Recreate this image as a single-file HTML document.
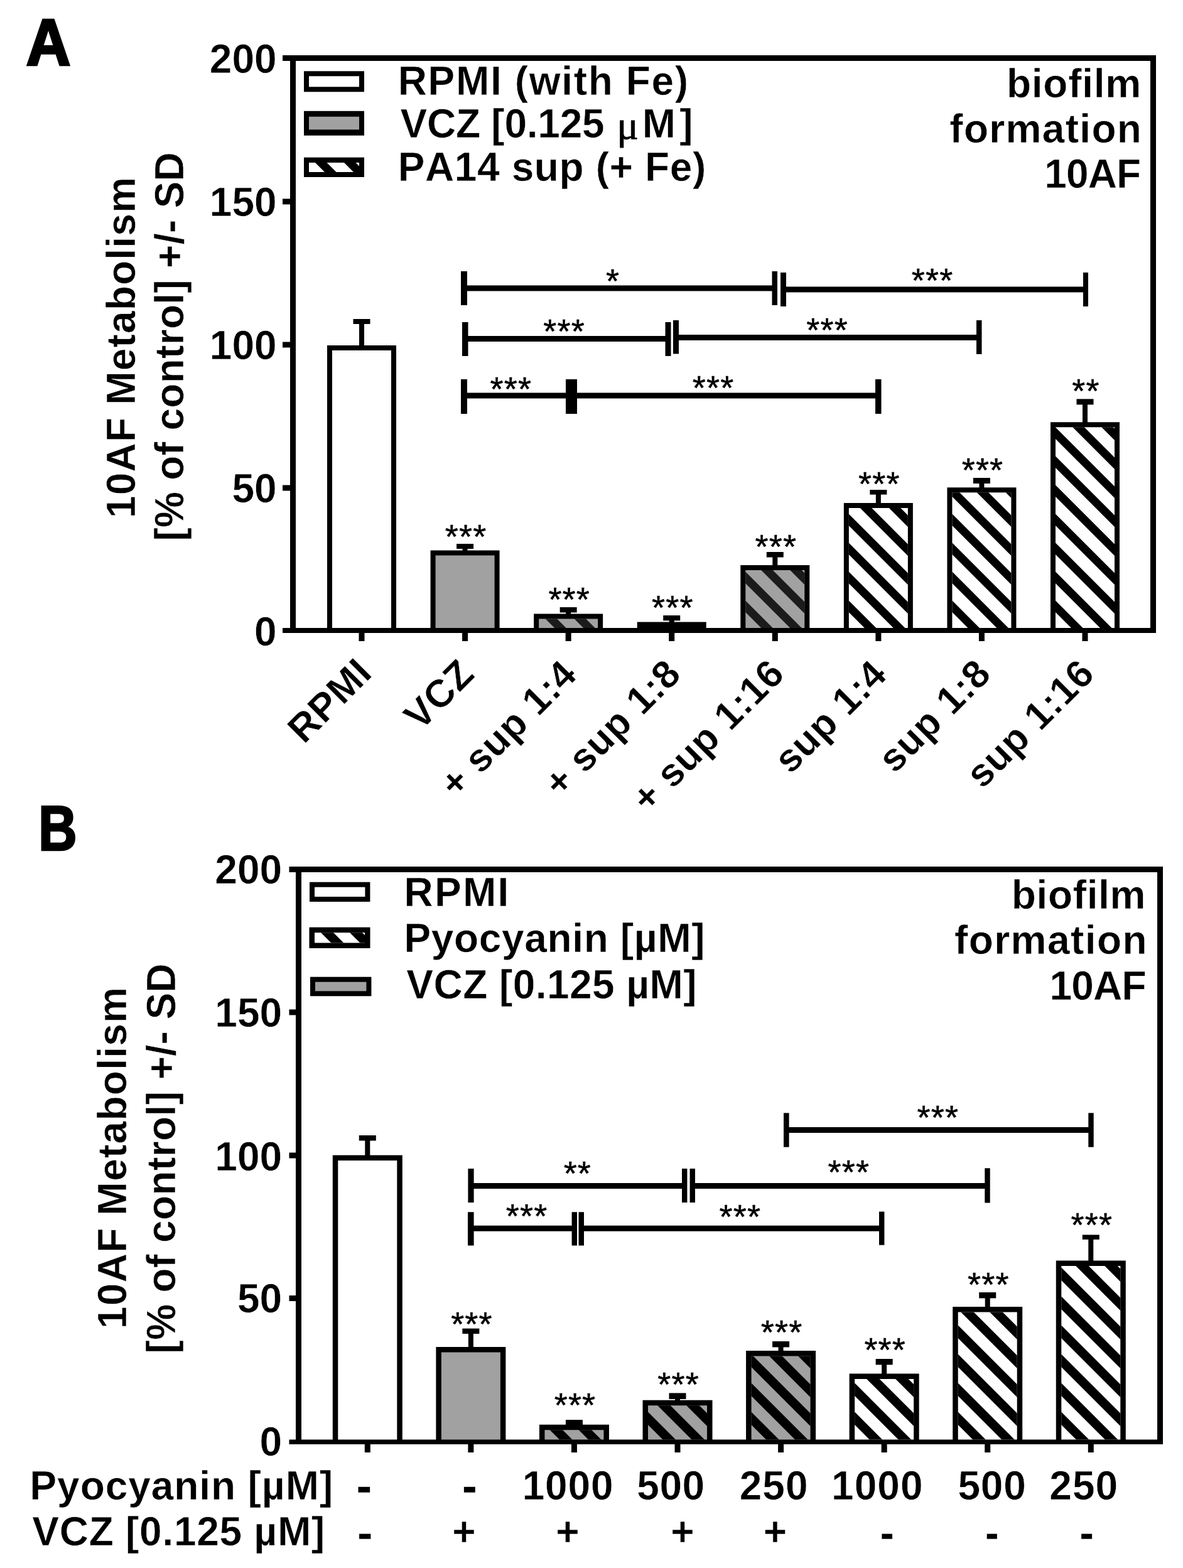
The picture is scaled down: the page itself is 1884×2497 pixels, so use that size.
<!DOCTYPE html>
<html><head><meta charset="utf-8"><title>10AF biofilm formation</title>
<style>html,body{margin:0;padding:0;background:#fff;width:1884px;height:2497px;overflow:hidden}svg{display:block}
text{font-family:'Liberation Sans', Arial, sans-serif;fill:#000;font-kerning:none;font-variant-ligatures:none;stroke:#fff;stroke-width:0.5px}</style></head>
<body><svg width="1884" height="2497" viewBox="0 0 1884 2497" font-family="'Liberation Sans', Arial, sans-serif" style="font-kerning:none;font-variant-ligatures:none"><defs><clipPath id="c1"><rect x="858.14" y="985.50" width="94.00" height="14.50"/></clipPath><clipPath id="c2"><rect x="1187.28" y="908.00" width="94.00" height="92.00"/></clipPath><clipPath id="c3"><rect x="1351.85" y="809.00" width="94.00" height="191.00"/></clipPath><clipPath id="c4"><rect x="1516.42" y="784.30" width="94.00" height="215.70"/></clipPath><clipPath id="c5"><rect x="1680.99" y="680.30" width="94.00" height="319.70"/></clipPath><clipPath id="c6"><rect x="492.00" y="259.00" width="80.00" height="15.00"/></clipPath><clipPath id="c7"><rect x="867.44" y="2277.20" width="94.00" height="15.30"/></clipPath><clipPath id="c8"><rect x="1032.01" y="2238.20" width="94.00" height="54.30"/></clipPath><clipPath id="c9"><rect x="1196.58" y="2159.50" width="94.00" height="133.00"/></clipPath><clipPath id="c10"><rect x="1361.15" y="2196.00" width="94.00" height="96.50"/></clipPath><clipPath id="c11"><rect x="1525.72" y="2089.50" width="94.00" height="203.00"/></clipPath><clipPath id="c12"><rect x="1690.29" y="2016.00" width="94.00" height="276.50"/></clipPath><clipPath id="c13"><rect x="501.00" y="1485.20" width="80.00" height="16.30"/></clipPath></defs><rect width="1884" height="2497" fill="#fff"/><rect x="462.00" y="88.00" width="9.00" height="920.00" fill="#000"/>
<rect x="450.00" y="88.00" width="1391.00" height="9.00" fill="#000"/>
<rect x="1832.00" y="88.00" width="9.00" height="920.00" fill="#000"/>
<rect x="450.00" y="1000.00" width="1391.00" height="8.00" fill="#000"/>
<rect x="450.00" y="316.50" width="13.00" height="9.00" fill="#000"/>
<rect x="450.00" y="544.50" width="13.00" height="9.00" fill="#000"/>
<rect x="450.00" y="772.50" width="13.00" height="9.00" fill="#000"/>
<rect x="571.50" y="1007.00" width="9.00" height="14.00" fill="#000"/>
<rect x="736.07" y="1007.00" width="9.00" height="14.00" fill="#000"/>
<rect x="900.64" y="1007.00" width="9.00" height="14.00" fill="#000"/>
<rect x="1065.21" y="1007.00" width="9.00" height="14.00" fill="#000"/>
<rect x="1229.78" y="1007.00" width="9.00" height="14.00" fill="#000"/>
<rect x="1394.35" y="1007.00" width="9.00" height="14.00" fill="#000"/>
<rect x="1558.92" y="1007.00" width="9.00" height="14.00" fill="#000"/>
<rect x="1723.49" y="1007.00" width="9.00" height="14.00" fill="#000"/>
<rect x="572.00" y="515.00" width="8.00" height="36.00" fill="#000"/>
<rect x="562.50" y="508.00" width="27.00" height="8.00" fill="#000"/>
<rect x="521.00" y="550.00" width="110.00" height="451.00" fill="#000"/>
<rect x="529.00" y="558.00" width="94.00" height="442.00" fill="#fff"/>
<rect x="736.57" y="873.00" width="8.00" height="4.50" fill="#000"/>
<rect x="727.07" y="866.00" width="27.00" height="8.00" fill="#000"/>
<rect x="685.57" y="876.50" width="110.00" height="124.50" fill="#000"/>
<rect x="693.57" y="884.50" width="94.00" height="115.50" fill="#a1a1a1"/>
<rect x="901.14" y="974.40" width="8.00" height="4.10" fill="#000"/>
<rect x="891.64" y="967.00" width="27.00" height="8.40" fill="#000"/>
<rect x="850.14" y="977.50" width="110.00" height="23.50" fill="#000"/>
<rect x="858.14" y="985.50" width="94.00" height="14.50" fill="#a1a1a1"/>
<g clip-path="url(#c1)"><polygon points="774.64,983.50 793.14,983.50 811.64,1002.00 793.14,1002.00" fill="#1b1b1b"/><polygon points="820.64,983.50 839.14,983.50 857.64,1002.00 839.14,1002.00" fill="#1b1b1b"/><polygon points="866.64,983.50 885.14,983.50 903.64,1002.00 885.14,1002.00" fill="#1b1b1b"/><polygon points="912.64,983.50 931.14,983.50 949.64,1002.00 931.14,1002.00" fill="#1b1b1b"/><polygon points="958.64,983.50 977.14,983.50 995.64,1002.00 977.14,1002.00" fill="#1b1b1b"/><polygon points="1004.64,983.50 1023.14,983.50 1041.64,1002.00 1023.14,1002.00" fill="#1b1b1b"/><polygon points="1050.64,983.50 1069.14,983.50 1087.64,1002.00 1069.14,1002.00" fill="#1b1b1b"/><polygon points="1096.64,983.50 1115.14,983.50 1133.64,1002.00 1115.14,1002.00" fill="#1b1b1b"/></g>
<rect x="1065.71" y="987.30" width="8.00" height="4.20" fill="#000"/>
<rect x="1056.21" y="980.00" width="27.00" height="8.30" fill="#000"/>
<rect x="1014.71" y="990.50" width="110.00" height="10.50" fill="#000"/>
<rect x="1230.28" y="886.50" width="8.00" height="14.50" fill="#000"/>
<rect x="1220.78" y="879.00" width="27.00" height="8.50" fill="#000"/>
<rect x="1179.28" y="900.00" width="110.00" height="101.00" fill="#000"/>
<rect x="1187.28" y="908.00" width="94.00" height="92.00" fill="#a1a1a1"/>
<g clip-path="url(#c2)"><polygon points="1026.28,906.00 1044.78,906.00 1140.78,1002.00 1122.28,1002.00" fill="#1b1b1b"/><polygon points="1072.28,906.00 1090.78,906.00 1186.78,1002.00 1168.28,1002.00" fill="#1b1b1b"/><polygon points="1118.28,906.00 1136.78,906.00 1232.78,1002.00 1214.28,1002.00" fill="#1b1b1b"/><polygon points="1164.28,906.00 1182.78,906.00 1278.78,1002.00 1260.28,1002.00" fill="#1b1b1b"/><polygon points="1210.28,906.00 1228.78,906.00 1324.78,1002.00 1306.28,1002.00" fill="#1b1b1b"/><polygon points="1256.28,906.00 1274.78,906.00 1370.78,1002.00 1352.28,1002.00" fill="#1b1b1b"/><polygon points="1302.28,906.00 1320.78,906.00 1416.78,1002.00 1398.28,1002.00" fill="#1b1b1b"/><polygon points="1348.28,906.00 1366.78,906.00 1462.78,1002.00 1444.28,1002.00" fill="#1b1b1b"/><polygon points="1394.28,906.00 1412.78,906.00 1508.78,1002.00 1490.28,1002.00" fill="#1b1b1b"/><polygon points="1440.28,906.00 1458.78,906.00 1554.78,1002.00 1536.28,1002.00" fill="#1b1b1b"/></g>
<rect x="1394.85" y="786.60" width="8.00" height="15.40" fill="#000"/>
<rect x="1385.35" y="780.00" width="27.00" height="7.60" fill="#000"/>
<rect x="1343.85" y="801.00" width="110.00" height="200.00" fill="#000"/>
<rect x="1351.85" y="809.00" width="94.00" height="191.00" fill="#fff"/>
<g clip-path="url(#c3)"><polygon points="1091.85,807.00 1110.35,807.00 1305.35,1002.00 1286.85,1002.00" fill="#000"/><polygon points="1137.85,807.00 1156.35,807.00 1351.35,1002.00 1332.85,1002.00" fill="#000"/><polygon points="1183.85,807.00 1202.35,807.00 1397.35,1002.00 1378.85,1002.00" fill="#000"/><polygon points="1229.85,807.00 1248.35,807.00 1443.35,1002.00 1424.85,1002.00" fill="#000"/><polygon points="1275.85,807.00 1294.35,807.00 1489.35,1002.00 1470.85,1002.00" fill="#000"/><polygon points="1321.85,807.00 1340.35,807.00 1535.35,1002.00 1516.85,1002.00" fill="#000"/><polygon points="1367.85,807.00 1386.35,807.00 1581.35,1002.00 1562.85,1002.00" fill="#000"/><polygon points="1413.85,807.00 1432.35,807.00 1627.35,1002.00 1608.85,1002.00" fill="#000"/><polygon points="1459.85,807.00 1478.35,807.00 1673.35,1002.00 1654.85,1002.00" fill="#000"/><polygon points="1505.85,807.00 1524.35,807.00 1719.35,1002.00 1700.85,1002.00" fill="#000"/><polygon points="1551.85,807.00 1570.35,807.00 1765.35,1002.00 1746.85,1002.00" fill="#000"/><polygon points="1597.85,807.00 1616.35,807.00 1811.35,1002.00 1792.85,1002.00" fill="#000"/></g>
<rect x="1559.42" y="769.00" width="8.00" height="8.30" fill="#000"/>
<rect x="1549.92" y="761.00" width="27.00" height="9.00" fill="#000"/>
<rect x="1508.42" y="776.30" width="110.00" height="224.70" fill="#000"/>
<rect x="1516.42" y="784.30" width="94.00" height="215.70" fill="#fff"/>
<g clip-path="url(#c4)"><polygon points="1231.72,782.30 1250.22,782.30 1469.92,1002.00 1451.42,1002.00" fill="#000"/><polygon points="1277.72,782.30 1296.22,782.30 1515.92,1002.00 1497.42,1002.00" fill="#000"/><polygon points="1323.72,782.30 1342.22,782.30 1561.92,1002.00 1543.42,1002.00" fill="#000"/><polygon points="1369.72,782.30 1388.22,782.30 1607.92,1002.00 1589.42,1002.00" fill="#000"/><polygon points="1415.72,782.30 1434.22,782.30 1653.92,1002.00 1635.42,1002.00" fill="#000"/><polygon points="1461.72,782.30 1480.22,782.30 1699.92,1002.00 1681.42,1002.00" fill="#000"/><polygon points="1507.72,782.30 1526.22,782.30 1745.92,1002.00 1727.42,1002.00" fill="#000"/><polygon points="1553.72,782.30 1572.22,782.30 1791.92,1002.00 1773.42,1002.00" fill="#000"/><polygon points="1599.72,782.30 1618.22,782.30 1837.92,1002.00 1819.42,1002.00" fill="#000"/><polygon points="1645.72,782.30 1664.22,782.30 1883.92,1002.00 1865.42,1002.00" fill="#000"/><polygon points="1691.72,782.30 1710.22,782.30 1929.92,1002.00 1911.42,1002.00" fill="#000"/><polygon points="1737.72,782.30 1756.22,782.30 1975.92,1002.00 1957.42,1002.00" fill="#000"/></g>
<rect x="1723.99" y="643.40" width="8.00" height="29.90" fill="#000"/>
<rect x="1714.49" y="635.40" width="27.00" height="9.00" fill="#000"/>
<rect x="1672.99" y="672.30" width="110.00" height="328.70" fill="#000"/>
<rect x="1680.99" y="680.30" width="94.00" height="319.70" fill="#fff"/>
<g clip-path="url(#c5)"><polygon points="1292.29,678.30 1310.79,678.30 1634.49,1002.00 1615.99,1002.00" fill="#000"/><polygon points="1338.29,678.30 1356.79,678.30 1680.49,1002.00 1661.99,1002.00" fill="#000"/><polygon points="1384.29,678.30 1402.79,678.30 1726.49,1002.00 1707.99,1002.00" fill="#000"/><polygon points="1430.29,678.30 1448.79,678.30 1772.49,1002.00 1753.99,1002.00" fill="#000"/><polygon points="1476.29,678.30 1494.79,678.30 1818.49,1002.00 1799.99,1002.00" fill="#000"/><polygon points="1522.29,678.30 1540.79,678.30 1864.49,1002.00 1845.99,1002.00" fill="#000"/><polygon points="1568.29,678.30 1586.79,678.30 1910.49,1002.00 1891.99,1002.00" fill="#000"/><polygon points="1614.29,678.30 1632.79,678.30 1956.49,1002.00 1937.99,1002.00" fill="#000"/><polygon points="1660.29,678.30 1678.79,678.30 2002.49,1002.00 1983.99,1002.00" fill="#000"/><polygon points="1706.29,678.30 1724.79,678.30 2048.49,1002.00 2029.99,1002.00" fill="#000"/><polygon points="1752.29,678.30 1770.79,678.30 2094.49,1002.00 2075.99,1002.00" fill="#000"/><polygon points="1798.29,678.30 1816.79,678.30 2140.49,1002.00 2121.99,1002.00" fill="#000"/><polygon points="1844.29,678.30 1862.79,678.30 2186.49,1002.00 2167.99,1002.00" fill="#000"/><polygon points="1890.29,678.30 1908.79,678.30 2232.49,1002.00 2213.99,1002.00" fill="#000"/></g>
<text x="708.83" y="872.85" font-size="54" font-weight="normal" letter-spacing="1.200" style="stroke:#000;stroke-width:0.5px">***</text>
<text x="873.40" y="972.85" font-size="54" font-weight="normal" letter-spacing="1.200" style="stroke:#000;stroke-width:0.5px">***</text>
<text x="1037.97" y="985.85" font-size="54" font-weight="normal" letter-spacing="1.200" style="stroke:#000;stroke-width:0.5px">***</text>
<text x="1202.54" y="888.85" font-size="54" font-weight="normal" letter-spacing="1.200" style="stroke:#000;stroke-width:0.5px">***</text>
<text x="1367.11" y="789.25" font-size="54" font-weight="normal" letter-spacing="1.200" style="stroke:#000;stroke-width:0.5px">***</text>
<text x="1531.68" y="766.85" font-size="54" font-weight="normal" letter-spacing="1.200" style="stroke:#000;stroke-width:0.5px">***</text>
<text x="1707.36" y="640.85" font-size="54" font-weight="normal" letter-spacing="1.200" style="stroke:#000;stroke-width:0.5px">**</text>
<rect x="734.00" y="432.00" width="10.00" height="54.00" fill="#000"/>
<rect x="744.00" y="454.50" width="487.00" height="9.00" fill="#000"/>
<rect x="1229.50" y="432.00" width="8.50" height="54.00" fill="#000"/>
<rect x="1243.00" y="434.00" width="9.00" height="54.00" fill="#000"/>
<rect x="1250.00" y="456.50" width="480.00" height="9.00" fill="#000"/>
<rect x="1725.00" y="434.00" width="8.00" height="54.00" fill="#000"/>
<text x="964.98" y="465.85" font-size="54" font-weight="normal" letter-spacing="1.200" style="stroke:#000;stroke-width:0.5px">*</text>
<text x="1451.76" y="464.85" font-size="54" font-weight="normal" letter-spacing="1.200" style="stroke:#000;stroke-width:0.5px">***</text>
<rect x="736.00" y="513.00" width="9.50" height="54.00" fill="#000"/>
<rect x="744.00" y="535.00" width="317.00" height="9.00" fill="#000"/>
<rect x="1059.50" y="513.00" width="9.00" height="54.00" fill="#000"/>
<rect x="1072.00" y="510.00" width="9.00" height="53.50" fill="#000"/>
<rect x="1080.00" y="533.00" width="480.00" height="9.00" fill="#000"/>
<rect x="1555.00" y="510.00" width="8.50" height="54.00" fill="#000"/>
<text x="865.26" y="545.65" font-size="54" font-weight="normal" letter-spacing="1.200" style="stroke:#000;stroke-width:0.5px">***</text>
<text x="1284.26" y="543.65" font-size="54" font-weight="normal" letter-spacing="1.200" style="stroke:#000;stroke-width:0.5px">***</text>
<rect x="734.00" y="604.00" width="10.00" height="55.00" fill="#000"/>
<rect x="744.00" y="625.50" width="656.00" height="9.00" fill="#000"/>
<rect x="901.00" y="604.00" width="18.00" height="55.00" fill="#000"/>
<rect x="1394.00" y="604.00" width="9.50" height="55.00" fill="#000"/>
<text x="780.56" y="637.85" font-size="54" font-weight="normal" letter-spacing="1.200" style="stroke:#000;stroke-width:0.5px">***</text>
<text x="1102.76" y="636.35" font-size="54" font-weight="normal" letter-spacing="1.200" style="stroke:#000;stroke-width:0.5px">***</text>
<rect x="484.00" y="113.30" width="96.00" height="33.00" fill="#000"/>
<rect x="492.00" y="121.30" width="80.00" height="17.00" fill="#fff"/>
<rect x="484.00" y="176.80" width="96.00" height="39.00" fill="#000"/>
<rect x="492.00" y="185.80" width="80.00" height="20.60" fill="#a1a1a1"/>
<rect x="484.00" y="250.70" width="96.00" height="31.30" fill="#000"/>
<rect x="492.00" y="259.00" width="80.00" height="15.00" fill="#fff"/>
<g clip-path="url(#c6)"><polygon points="408.00,257.00 426.50,257.00 445.50,276.00 427.00,276.00" fill="#000"/><polygon points="454.00,257.00 472.50,257.00 491.50,276.00 473.00,276.00" fill="#000"/><polygon points="500.00,257.00 518.50,257.00 537.50,276.00 519.00,276.00" fill="#000"/><polygon points="546.00,257.00 564.50,257.00 583.50,276.00 565.00,276.00" fill="#000"/><polygon points="592.00,257.00 610.50,257.00 629.50,276.00 611.00,276.00" fill="#000"/><polygon points="638.00,257.00 656.50,257.00 675.50,276.00 657.00,276.00" fill="#000"/><polygon points="684.00,257.00 702.50,257.00 721.50,276.00 703.00,276.00" fill="#000"/><polygon points="730.00,257.00 748.50,257.00 767.50,276.00 749.00,276.00" fill="#000"/></g>
<text x="633.72" y="151.00" font-size="64" font-weight="bold" letter-spacing="1.663" >RPMI (with Fe)</text>
<text x="637.56" y="219.00" font-size="64" font-weight="bold" letter-spacing="-0.248" >VCZ [0.125</text>
<text x="982.56" y="220.50" font-size="64" font-weight="normal" letter-spacing="0.000" style="font-family:Liberation Serif;stroke:#000;stroke-width:0.9px">μ</text>
<text x="1022.72" y="219.00" font-size="64" font-weight="bold" letter-spacing="6.250" >M]</text>
<text x="633.72" y="288.00" font-size="64" font-weight="bold" letter-spacing="0.612" >PA14 sup (+ Fe)</text>
<text x="1602.98" y="154.70" font-size="64" font-weight="bold" letter-spacing="0.740" >biofilm</text>
<text x="1512.31" y="226.80" font-size="64" font-weight="bold" letter-spacing="1.321" >formation</text>
<text x="1663.37" y="299.40" font-size="64" font-weight="bold" letter-spacing="-0.908" >10AF</text>
<text transform="translate(41.82,103.45) scale(0.9763,1.0393)" x="0" y="0" font-size="100.0" font-weight="bold" style="stroke:#000;stroke-width:3.473px;stroke-linejoin:miter">A</text>
<text x="333.84" y="116.00" font-size="64" font-weight="bold" letter-spacing="0.000" >200</text>
<text x="333.84" y="343.50" font-size="64" font-weight="bold" letter-spacing="0.000" >150</text>
<text x="333.84" y="571.50" font-size="64" font-weight="bold" letter-spacing="0.000" >100</text>
<text x="369.44" y="799.50" font-size="64" font-weight="bold" letter-spacing="0.000" >50</text>
<text x="405.03" y="1027.50" font-size="64" font-weight="bold" letter-spacing="0.000" >0</text>
<text transform="rotate(-90)" x="-825.03" y="215.00" font-size="64" font-weight="bold" letter-spacing="1.190" >10AF Metabolism</text>
<text transform="rotate(-90)" x="-861.59" y="292.00" font-size="64" font-weight="bold" letter-spacing="0.298" >[% of control] +/- SD</text>
<text transform="translate(577.00,1063) rotate(-45)" x="-152.95" y="21.33" font-size="62" font-weight="bold" letter-spacing="0.7">RPMI</text>
<text transform="translate(741.57,1063) rotate(-45)" x="-123.61" y="21.33" font-size="62" font-weight="bold" letter-spacing="0.7">VCZ</text>
<text transform="translate(906.14,1063) rotate(-45)" x="-275.76" y="21.33" font-size="62" font-weight="bold" letter-spacing="0.7">+ sup 1:4</text>
<text transform="translate(1070.71,1063) rotate(-45)" x="-274.19" y="21.33" font-size="62" font-weight="bold" letter-spacing="0.7">+ sup 1:8</text>
<text transform="translate(1235.28,1063) rotate(-45)" x="-309.03" y="21.33" font-size="62" font-weight="bold" letter-spacing="0.7">+ sup 1:16</text>
<text transform="translate(1399.85,1063) rotate(-45)" x="-220.93" y="21.33" font-size="62" font-weight="bold" letter-spacing="0.7">sup 1:4</text>
<text transform="translate(1564.42,1063) rotate(-45)" x="-219.35" y="21.33" font-size="62" font-weight="bold" letter-spacing="0.7">sup 1:8</text>
<text transform="translate(1728.99,1063) rotate(-45)" x="-254.20" y="21.33" font-size="62" font-weight="bold" letter-spacing="0.7">sup 1:16</text>
<rect x="471.00" y="1380.00" width="9.00" height="920.00" fill="#000"/>
<rect x="460.50" y="1380.00" width="1391.50" height="9.00" fill="#000"/>
<rect x="1843.00" y="1380.00" width="9.00" height="920.00" fill="#000"/>
<rect x="460.50" y="2292.50" width="1391.50" height="7.50" fill="#000"/>
<rect x="460.50" y="1607.50" width="11.50" height="9.00" fill="#000"/>
<rect x="460.50" y="1835.50" width="11.50" height="9.00" fill="#000"/>
<rect x="460.50" y="2063.00" width="11.50" height="9.00" fill="#000"/>
<rect x="580.80" y="2299.00" width="9.00" height="14.00" fill="#000"/>
<rect x="745.37" y="2299.00" width="9.00" height="14.00" fill="#000"/>
<rect x="909.94" y="2299.00" width="9.00" height="14.00" fill="#000"/>
<rect x="1074.51" y="2299.00" width="9.00" height="14.00" fill="#000"/>
<rect x="1239.08" y="2299.00" width="9.00" height="14.00" fill="#000"/>
<rect x="1403.65" y="2299.00" width="9.00" height="14.00" fill="#000"/>
<rect x="1568.22" y="2299.00" width="9.00" height="14.00" fill="#000"/>
<rect x="1732.79" y="2299.00" width="9.00" height="14.00" fill="#000"/>
<rect x="581.30" y="1815.50" width="8.00" height="25.10" fill="#000"/>
<rect x="571.80" y="1808.00" width="27.00" height="8.50" fill="#000"/>
<rect x="529.80" y="1839.60" width="111.00" height="453.40" fill="#000"/>
<rect x="538.30" y="1848.10" width="94.00" height="444.40" fill="#fff"/>
<rect x="745.87" y="2123.00" width="8.00" height="23.00" fill="#000"/>
<rect x="736.37" y="2115.60" width="27.00" height="8.40" fill="#000"/>
<rect x="694.37" y="2145.00" width="111.00" height="148.00" fill="#000"/>
<rect x="702.87" y="2153.50" width="94.00" height="139.00" fill="#a1a1a1"/>
<rect x="910.44" y="2269.80" width="8.00" height="-0.10" fill="#000"/>
<rect x="900.94" y="2261.00" width="27.00" height="9.80" fill="#000"/>
<rect x="858.94" y="2268.70" width="111.00" height="24.30" fill="#000"/>
<rect x="867.44" y="2277.20" width="94.00" height="15.30" fill="#a1a1a1"/>
<g clip-path="url(#c7)"><polygon points="781.64,2275.20 802.14,2275.20 821.44,2294.50 800.94,2294.50" fill="#000"/><polygon points="827.64,2275.20 848.14,2275.20 867.44,2294.50 846.94,2294.50" fill="#000"/><polygon points="873.64,2275.20 894.14,2275.20 913.44,2294.50 892.94,2294.50" fill="#000"/><polygon points="919.64,2275.20 940.14,2275.20 959.44,2294.50 938.94,2294.50" fill="#000"/><polygon points="965.64,2275.20 986.14,2275.20 1005.44,2294.50 984.94,2294.50" fill="#000"/><polygon points="1011.64,2275.20 1032.14,2275.20 1051.44,2294.50 1030.94,2294.50" fill="#000"/><polygon points="1057.64,2275.20 1078.14,2275.20 1097.44,2294.50 1076.94,2294.50" fill="#000"/><polygon points="1103.64,2275.20 1124.14,2275.20 1143.44,2294.50 1122.94,2294.50" fill="#000"/></g>
<rect x="1075.01" y="2227.00" width="8.00" height="3.70" fill="#000"/>
<rect x="1065.51" y="2218.40" width="27.00" height="9.60" fill="#000"/>
<rect x="1023.51" y="2229.70" width="111.00" height="63.30" fill="#000"/>
<rect x="1032.01" y="2238.20" width="94.00" height="54.30" fill="#a1a1a1"/>
<g clip-path="url(#c8)"><polygon points="907.21,2236.20 927.71,2236.20 986.01,2294.50 965.51,2294.50" fill="#000"/><polygon points="953.21,2236.20 973.71,2236.20 1032.01,2294.50 1011.51,2294.50" fill="#000"/><polygon points="999.21,2236.20 1019.71,2236.20 1078.01,2294.50 1057.51,2294.50" fill="#000"/><polygon points="1045.21,2236.20 1065.71,2236.20 1124.01,2294.50 1103.51,2294.50" fill="#000"/><polygon points="1091.21,2236.20 1111.71,2236.20 1170.01,2294.50 1149.51,2294.50" fill="#000"/><polygon points="1137.21,2236.20 1157.71,2236.20 1216.01,2294.50 1195.51,2294.50" fill="#000"/><polygon points="1183.21,2236.20 1203.71,2236.20 1262.01,2294.50 1241.51,2294.50" fill="#000"/><polygon points="1229.21,2236.20 1249.71,2236.20 1308.01,2294.50 1287.51,2294.50" fill="#000"/><polygon points="1275.21,2236.20 1295.71,2236.20 1354.01,2294.50 1333.51,2294.50" fill="#000"/></g>
<rect x="1239.58" y="2144.40" width="8.00" height="7.60" fill="#000"/>
<rect x="1230.08" y="2136.00" width="27.00" height="9.40" fill="#000"/>
<rect x="1188.08" y="2151.00" width="111.00" height="142.00" fill="#000"/>
<rect x="1196.58" y="2159.50" width="94.00" height="133.00" fill="#a1a1a1"/>
<g clip-path="url(#c9)"><polygon points="993.08,2157.50 1013.58,2157.50 1150.58,2294.50 1130.08,2294.50" fill="#000"/><polygon points="1039.08,2157.50 1059.58,2157.50 1196.58,2294.50 1176.08,2294.50" fill="#000"/><polygon points="1085.08,2157.50 1105.58,2157.50 1242.58,2294.50 1222.08,2294.50" fill="#000"/><polygon points="1131.08,2157.50 1151.58,2157.50 1288.58,2294.50 1268.08,2294.50" fill="#000"/><polygon points="1177.08,2157.50 1197.58,2157.50 1334.58,2294.50 1314.08,2294.50" fill="#000"/><polygon points="1223.08,2157.50 1243.58,2157.50 1380.58,2294.50 1360.08,2294.50" fill="#000"/><polygon points="1269.08,2157.50 1289.58,2157.50 1426.58,2294.50 1406.08,2294.50" fill="#000"/><polygon points="1315.08,2157.50 1335.58,2157.50 1472.58,2294.50 1452.08,2294.50" fill="#000"/><polygon points="1361.08,2157.50 1381.58,2157.50 1518.58,2294.50 1498.08,2294.50" fill="#000"/><polygon points="1407.08,2157.50 1427.58,2157.50 1564.58,2294.50 1544.08,2294.50" fill="#000"/></g>
<rect x="1404.15" y="2172.40" width="8.00" height="16.10" fill="#000"/>
<rect x="1394.65" y="2164.00" width="27.00" height="9.40" fill="#000"/>
<rect x="1352.65" y="2187.50" width="111.00" height="105.50" fill="#000"/>
<rect x="1361.15" y="2196.00" width="94.00" height="96.50" fill="#fff"/>
<g clip-path="url(#c10)"><polygon points="1194.15,2194.00 1214.65,2194.00 1315.15,2294.50 1294.65,2294.50" fill="#000"/><polygon points="1240.15,2194.00 1260.65,2194.00 1361.15,2294.50 1340.65,2294.50" fill="#000"/><polygon points="1286.15,2194.00 1306.65,2194.00 1407.15,2294.50 1386.65,2294.50" fill="#000"/><polygon points="1332.15,2194.00 1352.65,2194.00 1453.15,2294.50 1432.65,2294.50" fill="#000"/><polygon points="1378.15,2194.00 1398.65,2194.00 1499.15,2294.50 1478.65,2294.50" fill="#000"/><polygon points="1424.15,2194.00 1444.65,2194.00 1545.15,2294.50 1524.65,2294.50" fill="#000"/><polygon points="1470.15,2194.00 1490.65,2194.00 1591.15,2294.50 1570.65,2294.50" fill="#000"/><polygon points="1516.15,2194.00 1536.65,2194.00 1637.15,2294.50 1616.65,2294.50" fill="#000"/><polygon points="1562.15,2194.00 1582.65,2194.00 1683.15,2294.50 1662.65,2294.50" fill="#000"/><polygon points="1608.15,2194.00 1628.65,2194.00 1729.15,2294.50 1708.65,2294.50" fill="#000"/></g>
<rect x="1568.72" y="2066.40" width="8.00" height="15.60" fill="#000"/>
<rect x="1559.22" y="2058.00" width="27.00" height="9.40" fill="#000"/>
<rect x="1517.22" y="2081.00" width="111.00" height="212.00" fill="#000"/>
<rect x="1525.72" y="2089.50" width="94.00" height="203.00" fill="#fff"/>
<g clip-path="url(#c11)"><polygon points="1252.22,2087.50 1272.72,2087.50 1479.72,2294.50 1459.22,2294.50" fill="#000"/><polygon points="1298.22,2087.50 1318.72,2087.50 1525.72,2294.50 1505.22,2294.50" fill="#000"/><polygon points="1344.22,2087.50 1364.72,2087.50 1571.72,2294.50 1551.22,2294.50" fill="#000"/><polygon points="1390.22,2087.50 1410.72,2087.50 1617.72,2294.50 1597.22,2294.50" fill="#000"/><polygon points="1436.22,2087.50 1456.72,2087.50 1663.72,2294.50 1643.22,2294.50" fill="#000"/><polygon points="1482.22,2087.50 1502.72,2087.50 1709.72,2294.50 1689.22,2294.50" fill="#000"/><polygon points="1528.22,2087.50 1548.72,2087.50 1755.72,2294.50 1735.22,2294.50" fill="#000"/><polygon points="1574.22,2087.50 1594.72,2087.50 1801.72,2294.50 1781.22,2294.50" fill="#000"/><polygon points="1620.22,2087.50 1640.72,2087.50 1847.72,2294.50 1827.22,2294.50" fill="#000"/><polygon points="1666.22,2087.50 1686.72,2087.50 1893.72,2294.50 1873.22,2294.50" fill="#000"/><polygon points="1712.22,2087.50 1732.72,2087.50 1939.72,2294.50 1919.22,2294.50" fill="#000"/><polygon points="1758.22,2087.50 1778.72,2087.50 1985.72,2294.50 1965.22,2294.50" fill="#000"/></g>
<rect x="1733.29" y="1972.90" width="8.00" height="35.60" fill="#000"/>
<rect x="1723.79" y="1966.40" width="27.00" height="7.50" fill="#000"/>
<rect x="1681.79" y="2007.50" width="111.00" height="285.50" fill="#000"/>
<rect x="1690.29" y="2016.00" width="94.00" height="276.50" fill="#fff"/>
<g clip-path="url(#c12)"><polygon points="1343.29,2014.00 1363.79,2014.00 1644.29,2294.50 1623.79,2294.50" fill="#000"/><polygon points="1389.29,2014.00 1409.79,2014.00 1690.29,2294.50 1669.79,2294.50" fill="#000"/><polygon points="1435.29,2014.00 1455.79,2014.00 1736.29,2294.50 1715.79,2294.50" fill="#000"/><polygon points="1481.29,2014.00 1501.79,2014.00 1782.29,2294.50 1761.79,2294.50" fill="#000"/><polygon points="1527.29,2014.00 1547.79,2014.00 1828.29,2294.50 1807.79,2294.50" fill="#000"/><polygon points="1573.29,2014.00 1593.79,2014.00 1874.29,2294.50 1853.79,2294.50" fill="#000"/><polygon points="1619.29,2014.00 1639.79,2014.00 1920.29,2294.50 1899.79,2294.50" fill="#000"/><polygon points="1665.29,2014.00 1685.79,2014.00 1966.29,2294.50 1945.79,2294.50" fill="#000"/><polygon points="1711.29,2014.00 1731.79,2014.00 2012.29,2294.50 1991.79,2294.50" fill="#000"/><polygon points="1757.29,2014.00 1777.79,2014.00 2058.29,2294.50 2037.79,2294.50" fill="#000"/><polygon points="1803.29,2014.00 1823.79,2014.00 2104.29,2294.50 2083.79,2294.50" fill="#000"/><polygon points="1849.29,2014.00 1869.79,2014.00 2150.29,2294.50 2129.79,2294.50" fill="#000"/><polygon points="1895.29,2014.00 1915.79,2014.00 2196.29,2294.50 2175.79,2294.50" fill="#000"/><polygon points="1941.29,2014.00 1961.79,2014.00 2242.29,2294.50 2221.79,2294.50" fill="#000"/></g>
<text x="718.13" y="2127.25" font-size="54" font-weight="normal" letter-spacing="1.200" style="stroke:#000;stroke-width:0.5px">***</text>
<text x="882.70" y="2256.45" font-size="54" font-weight="normal" letter-spacing="1.200" style="stroke:#000;stroke-width:0.5px">***</text>
<text x="1047.27" y="2222.85" font-size="54" font-weight="normal" letter-spacing="1.200" style="stroke:#000;stroke-width:0.5px">***</text>
<text x="1211.84" y="2140.15" font-size="54" font-weight="normal" letter-spacing="1.200" style="stroke:#000;stroke-width:0.5px">***</text>
<text x="1376.41" y="2168.25" font-size="54" font-weight="normal" letter-spacing="1.200" style="stroke:#000;stroke-width:0.5px">***</text>
<text x="1540.98" y="2064.45" font-size="54" font-weight="normal" letter-spacing="1.200" style="stroke:#000;stroke-width:0.5px">***</text>
<text x="1705.55" y="1968.65" font-size="54" font-weight="normal" letter-spacing="1.200" style="stroke:#000;stroke-width:0.5px">***</text>
<rect x="1248.00" y="1772.40" width="8.60" height="54.30" fill="#000"/>
<rect x="1256.00" y="1795.00" width="482.00" height="9.00" fill="#000"/>
<rect x="1733.30" y="1772.40" width="8.40" height="54.30" fill="#000"/>
<text x="1460.56" y="1798.05" font-size="54" font-weight="normal" letter-spacing="1.200" style="stroke:#000;stroke-width:0.5px">***</text>
<rect x="745.40" y="1861.00" width="9.20" height="54.00" fill="#000"/>
<rect x="754.00" y="1884.00" width="334.00" height="9.00" fill="#000"/>
<rect x="1086.00" y="1861.00" width="8.40" height="54.00" fill="#000"/>
<rect x="1098.60" y="1861.00" width="8.40" height="54.00" fill="#000"/>
<rect x="1106.00" y="1884.00" width="466.00" height="9.00" fill="#000"/>
<rect x="1568.30" y="1860.30" width="8.40" height="55.20" fill="#000"/>
<text x="897.67" y="1887.35" font-size="54" font-weight="normal" letter-spacing="1.200" style="stroke:#000;stroke-width:0.5px">**</text>
<text x="1318.46" y="1885.45" font-size="54" font-weight="normal" letter-spacing="1.200" style="stroke:#000;stroke-width:0.5px">***</text>
<rect x="745.00" y="1930.20" width="9.60" height="53.30" fill="#000"/>
<rect x="754.00" y="1951.70" width="158.00" height="9.00" fill="#000"/>
<rect x="910.60" y="1930.20" width="8.40" height="53.30" fill="#000"/>
<rect x="921.50" y="1930.20" width="8.50" height="53.30" fill="#000"/>
<rect x="929.00" y="1951.70" width="475.00" height="9.00" fill="#000"/>
<rect x="1400.00" y="1929.50" width="8.40" height="53.20" fill="#000"/>
<text x="805.76" y="1955.35" font-size="54" font-weight="normal" letter-spacing="1.200" style="stroke:#000;stroke-width:0.5px">***</text>
<text x="1145.56" y="1955.55" font-size="54" font-weight="normal" letter-spacing="1.200" style="stroke:#000;stroke-width:0.5px">***</text>
<rect x="493.00" y="1404.70" width="96.40" height="31.30" fill="#000"/>
<rect x="501.00" y="1412.70" width="80.40" height="15.30" fill="#fff"/>
<rect x="492.50" y="1476.70" width="97.00" height="33.30" fill="#000"/>
<rect x="501.00" y="1485.20" width="80.00" height="16.30" fill="#fff"/>
<g clip-path="url(#c13)"><polygon points="417.10,1483.20 437.00,1483.20 457.30,1503.50 437.40,1503.50" fill="#000"/><polygon points="463.10,1483.20 483.00,1483.20 503.30,1503.50 483.40,1503.50" fill="#000"/><polygon points="509.10,1483.20 529.00,1483.20 549.30,1503.50 529.40,1503.50" fill="#000"/><polygon points="555.10,1483.20 575.00,1483.20 595.30,1503.50 575.40,1503.50" fill="#000"/><polygon points="601.10,1483.20 621.00,1483.20 641.30,1503.50 621.40,1503.50" fill="#000"/><polygon points="647.10,1483.20 667.00,1483.20 687.30,1503.50 667.40,1503.50" fill="#000"/><polygon points="693.10,1483.20 713.00,1483.20 733.30,1503.50 713.40,1503.50" fill="#000"/><polygon points="739.10,1483.20 759.00,1483.20 779.30,1503.50 759.40,1503.50" fill="#000"/></g>
<rect x="494.00" y="1555.70" width="97.40" height="30.60" fill="#000"/>
<rect x="502.00" y="1563.70" width="81.40" height="14.60" fill="#a1a1a1"/>
<text x="643.52" y="1442.60" font-size="64" font-weight="bold" letter-spacing="2.254" >RPMI</text>
<text x="643.52" y="1515.80" font-size="64" font-weight="bold" letter-spacing="0.643" >Pyocyanin [µM]</text>
<text x="647.36" y="1590.00" font-size="64" font-weight="bold" letter-spacing="0.438" >VCZ [0.125 µM]</text>
<text x="1610.78" y="1446.50" font-size="64" font-weight="bold" letter-spacing="0.656" >biofilm</text>
<text x="1519.91" y="1519.30" font-size="64" font-weight="bold" letter-spacing="1.459" >formation</text>
<text x="1671.57" y="1591.60" font-size="64" font-weight="bold" letter-spacing="-0.842" >10AF</text>
<text transform="translate(61.02,1354.25) scale(0.8559,1.0291)" x="0" y="0" font-size="100.0" font-weight="bold" style="stroke:#000;stroke-width:2.652px;stroke-linejoin:miter">B</text>
<text x="342.34" y="1407.30" font-size="64" font-weight="bold" letter-spacing="0.000" >200</text>
<text x="342.34" y="1635.00" font-size="64" font-weight="bold" letter-spacing="0.000" >150</text>
<text x="342.34" y="1863.50" font-size="64" font-weight="bold" letter-spacing="0.000" >100</text>
<text x="377.94" y="2089.50" font-size="64" font-weight="bold" letter-spacing="0.000" >50</text>
<text x="413.53" y="2318.20" font-size="64" font-weight="bold" letter-spacing="0.000" >0</text>
<text transform="rotate(-90)" x="-2116.03" y="201.00" font-size="64" font-weight="bold" letter-spacing="1.261" >10AF Metabolism</text>
<text transform="rotate(-90)" x="-2155.59" y="279.00" font-size="64" font-weight="bold" letter-spacing="0.398" >[% of control] +/- SD</text>
<text x="47.52" y="2388.40" font-size="64" font-weight="bold" letter-spacing="0.920" >Pyocyanin [µM]</text>
<text x="51.36" y="2460.50" font-size="64" font-weight="bold" letter-spacing="0.723" >VCZ [0.125 µM]</text>
<text transform="translate(567.36,2393.49) scale(0.7522,0.8058)" x="0" y="0" font-size="100.0" font-weight="bold">-</text>
<text transform="translate(736.10,2393.49) scale(0.7168,0.8058)" x="0" y="0" font-size="100.0" font-weight="bold">-</text>
<text x="831.67" y="2388.40" font-size="64" font-weight="bold" letter-spacing="0.860" >1000</text>
<text x="1014.33" y="2388.40" font-size="64" font-weight="bold" letter-spacing="0.506" >500</text>
<text x="1177.78" y="2388.40" font-size="64" font-weight="bold" letter-spacing="0.981" >250</text>
<text x="1323.97" y="2388.40" font-size="64" font-weight="bold" letter-spacing="1.094" >1000</text>
<text x="1525.43" y="2388.40" font-size="64" font-weight="bold" letter-spacing="0.856" >500</text>
<text x="1671.28" y="2388.40" font-size="64" font-weight="bold" letter-spacing="1.031" >250</text>
<text x="720.27" y="2460.50" font-size="64" font-weight="bold" letter-spacing="0.000" >+</text>
<text x="885.27" y="2460.50" font-size="64" font-weight="bold" letter-spacing="0.000" >+</text>
<text x="1068.27" y="2460.50" font-size="64" font-weight="bold" letter-spacing="0.000" >+</text>
<text x="1215.77" y="2460.50" font-size="64" font-weight="bold" letter-spacing="0.000" >+</text>
<text transform="translate(569.11,2465.08) scale(0.7404,0.7302)" x="0" y="0" font-size="100.0" font-weight="bold">-</text>
<text transform="translate(1401.58,2465.08) scale(0.6695,0.7302)" x="0" y="0" font-size="100.0" font-weight="bold">-</text>
<text transform="translate(1569.06,2465.08) scale(0.6498,0.7302)" x="0" y="0" font-size="100.0" font-weight="bold">-</text>
<text transform="translate(1719.14,2465.08) scale(0.6814,0.7302)" x="0" y="0" font-size="100.0" font-weight="bold">-</text></svg></body></html>
